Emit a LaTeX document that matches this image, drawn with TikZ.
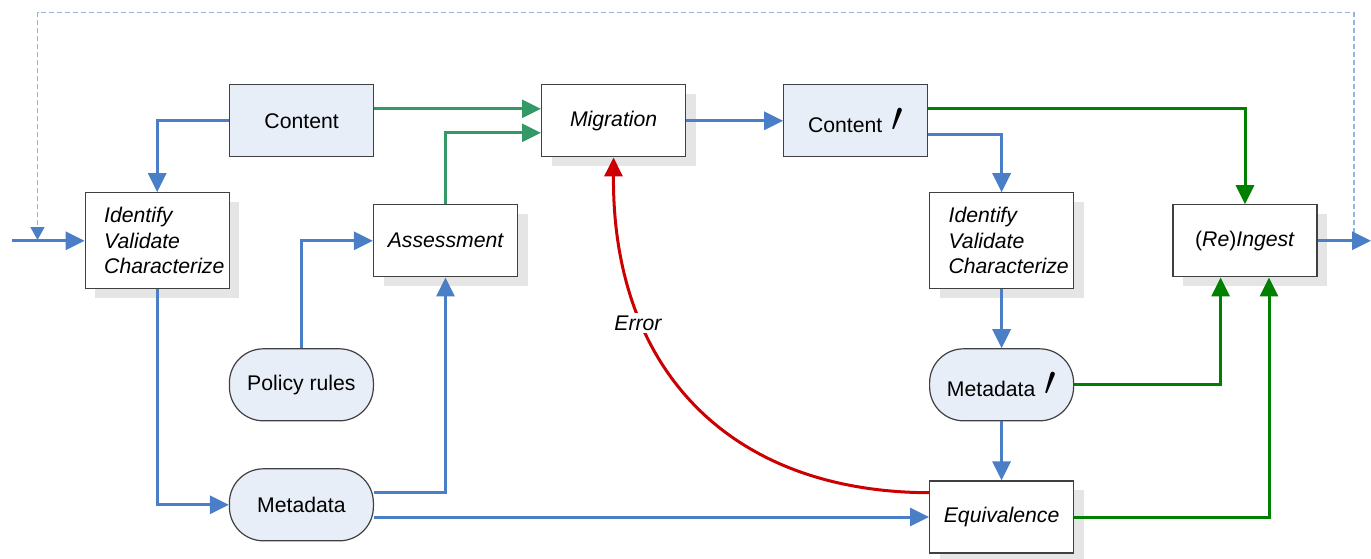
\documentclass[tikz,border=0pt]{standalone}
\usepackage{fontspec}
\setmainfont{Liberation Sans}
\usetikzlibrary{arrows.meta,shadows,calc}
\definecolor{lineblue}{HTML}{4A7EC7}
\definecolor{dashblue}{HTML}{95B3E0}
\definecolor{seagreen}{HTML}{339966}
\definecolor{darkgreen}{HTML}{008000}
\definecolor{errred}{HTML}{CC0000}
\definecolor{lightfill}{HTML}{E8EEF8}
\definecolor{shadowgray}{HTML}{E5E5E5}
\definecolor{borderdark}{HTML}{404040}
\newcommand{\diagfont}{\fontsize{10.6}{12.75}\selectfont}
\newcommand{\primemark}{\hspace{0.45em}\raisebox{0.6pt}{\scalebox{1.9}{$\prime$}}}
\tikzset{
  box/.style={draw=borderdark, line width=0.6pt, minimum width=72pt, minimum height=36pt, inner sep=0pt, font=\diagfont},
  wbox/.style={box, fill=white, drop shadow={shadow xshift=5pt, shadow yshift=-4.5pt, fill=shadowgray, opacity=1}},
  fbox/.style={box, fill=lightfill},
  rbox/.style={box, fill=lightfill, rounded corners=17pt},
  tallbox/.style={wbox, minimum height=48pt, text width=53pt, align=flush left},
  conn/.style={line width=1.5pt, -{Triangle[length=9.5pt,width=9pt]}},
  blueline/.style={conn, draw=lineblue, color=lineblue},
  sgline/.style={conn, draw=seagreen, color=seagreen},
  dgline/.style={conn, draw=darkgreen, color=darkgreen},
  errline/.style={conn, draw=errred, color=errred},
  loopline/.style={draw=dashblue, line width=0.6pt, dash pattern=on 2.5pt off 1.5pt, -{Triangle[length=6.5pt,width=7pt,color=lineblue]}},
  errlabel/.style={fill=white, inner sep=1.5pt, font=\diagfont\itshape}
}
\begin{document}
\begin{tikzpicture}[x=0.5pt, y=-0.5pt]
\useasboundingbox (0,0) rectangle (1371,558);

% nodes
\node[fbox] (content) at (301.6,120.8) {Content};
\node[wbox] (migration) at (613.6,120.8) {\itshape Migration};
\node[fbox] (contentp) at (855.7,120.8) {Content\primemark};
\node[tallbox] (id1) at (157.2,240.8) {\itshape Identify\\\itshape Validate\\\itshape Characterize};
\node[wbox] (assess) at (445.5,240.8) {\itshape Assessment};
\node[tallbox] (id2) at (1001.6,240.8) {\itshape Identify\\\itshape Validate\\\itshape Characterize};
\node[wbox] (reingest) at (1245,240.8) {(\textit{Re})\textit{Ingest}};
\node[rbox] (policy) at (301.4,384.8) {Policy rules};
\node[rbox] (meta) at (301.4,504.8) {Metadata};
\node[rbox] (metap) at (1001.6,384.8) {Metadata\primemark};
\node[wbox] (equiv) at (1001.6,517) {\itshape Equivalence};

\coordinate (in) at (12,240.8);
\coordinate (insplit) at (37.5,240);
\coordinate (out) at (1371,240.8);
\coordinate (outsplit) at (1354,240.8);

% feedback loop (dashed)
\draw[loopline] (outsplit) -- (1354,12.7) -- (37.5,12.7) -- (insplit);

% input / output
\draw[blueline] (in) -- (id1.west);
\draw[blueline] (reingest.east) -- (out);

% left part
\draw[blueline] (content.west) -| (id1.north);
\draw[sgline] ($(content.east)+(0,-12)$) -- ($(migration.west)+(0,-12)$);
\draw[sgline] (assess.north) |- ($(migration.west)+(0,12)$);
\draw[blueline] (policy.north) |- (assess.west);
\draw[blueline] (id1.south) |- (meta.west);
\draw[blueline] ($(meta.east)+(0,-12)$) -| (assess.south);
\draw[blueline] (meta.east |- equiv.west) -- (equiv.west);

% right part
\draw[blueline] (migration.east) -- (contentp.west);
\draw[dgline] ($(contentp.east)+(0,-12)$) -| (reingest.north);
\draw[blueline] ($(contentp.east)+(0,14)$) -| (id2.north);
\draw[blueline] (id2.south) -- (metap.north);
\draw[blueline] (metap.south) -- (equiv.north);
\draw[dgline] (metap.east) -| ($(reingest.south)+(-24.4,0)$);
\draw[dgline] (equiv.east) -| ($(reingest.south)+(24,0)$);

% error feedback
\draw[errline] ($(equiv.west)+(0,-24.3)$) .. controls (730,492) and (612,370) .. (migration.south);
\node[errlabel] (err) at (638,323) {Error};
\end{tikzpicture}
\end{document}
